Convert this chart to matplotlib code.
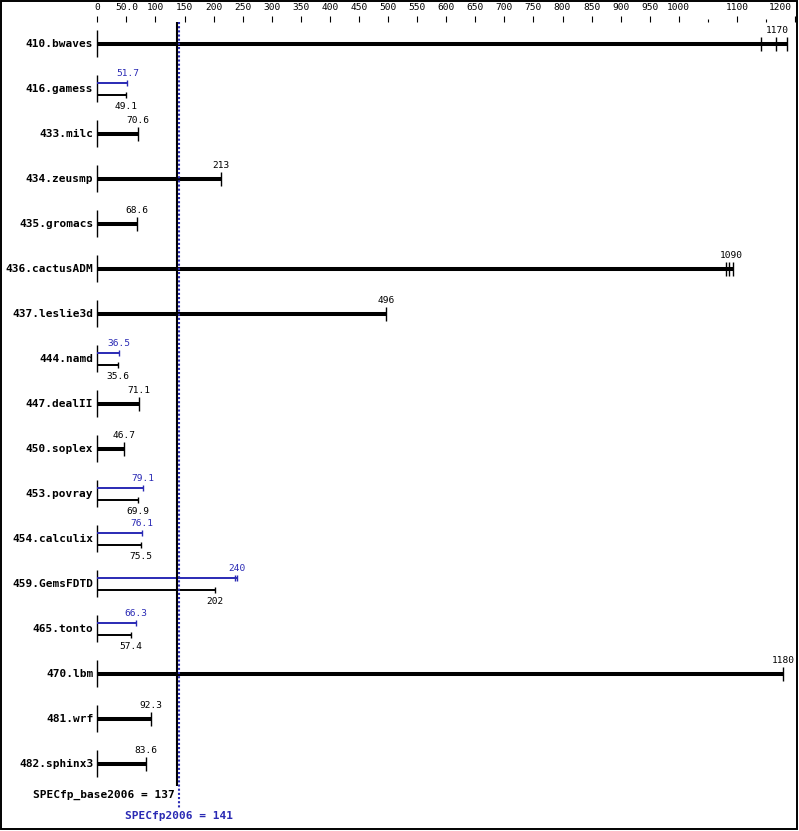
import matplotlib
matplotlib.use('Agg')
import matplotlib.pyplot as plt
from matplotlib.transforms import offset_copy

# benchmark results (base always, peak only where reported)
benchmarks = ['410.bwaves', '416.gamess', '433.milc', '434.zeusmp', '435.gromacs',
              '436.cactusADM', '437.leslie3d', '444.namd', '447.dealII', '450.soplex',
              '453.povray', '454.calculix', '459.GemsFDTD', '465.tonto', '470.lbm',
              '481.wrf', '482.sphinx3']
base = [1170, 49.1, 70.6, 213, 68.6, 1090, 496, 35.6, 71.1, 46.7,
        69.9, 75.5, 202, 57.4, 1180, 92.3, 83.6]
peak = [None, 51.7, None, None, None, None, None, 36.5, None, None,
        79.1, 76.1, 240, 66.3, None, None, None]
# individual runs where they are visible as separate ticks
base_runs = {'410.bwaves': [1142, 1167, 1186], '436.cactusADM': [1082, 1087, 1093]}
peak_runs = {'459.GemsFDTD': [237, 240]}

ticks = [0, 50, 100, 150, 200, 250, 300, 350, 400, 450, 500, 550, 600, 650,
         700, 750, 800, 850, 900, 950, 1000, 1100, 1200]
tick_labels = ['0', '50.0', '100', '150', '200', '250', '300', '350', '400', '450',
               '500', '550', '600', '650', '700', '750', '800', '850', '900', '950',
               '1000', '1100', '1200']
minor_ticks = [1050, 1150]

base_score = 137
peak_score = 141

BLUE = '#2a2ab4'
NUMFONT = dict(family='DejaVu Sans Mono', fontsize=6.8)
NAMEFONT = dict(family='DejaVu Sans Mono', fontsize=8, fontweight='bold')

W, H = 799, 831
fig = plt.figure(figsize=(W / 100, H / 100), dpi=100)
ax = fig.add_axes([0, 0, 1, 1])
px = 0.5815  # pixels per unit
x0 = 97.3
ax.set_xlim(-x0 / px, (W - x0) / px)
ax.set_ylim(H, 0)
ax.axis('off')

# top scale
ax.vlines(ticks, 16, 22, color='black', lw=0.8)
ax.vlines(minor_ticks, 19, 22, color='black', lw=0.8)
last_tr = offset_copy(ax.transData, fig=fig, x=-3, y=0, units='dots')
for t, lab in zip(ticks, tick_labels):
    if t == ticks[-1]:
        # last label pulled inside the frame
        ax.text(t, 8, lab, ha='right', va='center', transform=last_tr, **NUMFONT)
    else:
        ax.text(t, 8, lab, ha='center', va='center', **NUMFONT)

name_tr = offset_copy(ax.transData, fig=fig, x=-4, y=0, units='dots')

def fmt(v):
    return ('%g' % v)

for i, name in enumerate(benchmarks):
    y = 44 + 45 * i
    b = base[i]
    p = peak[i]
    ax.text(0, y, name, ha='right', va='center', transform=name_tr, **NAMEFONT)
    ax.vlines(0, y - 14, y + 13, color='black', lw=1.0)
    if p is None:
        runs = base_runs.get(name, [b])
        ax.hlines(y, 0, max(runs), color='black', lw=2.9)
        ax.vlines(runs, y - 7, y + 7, color='black', lw=1.0)
        ax.text(b, y - 9, fmt(b), ha='center', va='bottom', **NUMFONT)
    else:
        pr = peak_runs.get(name, [p])
        ax.hlines(y - 6, 0, max(pr), color=BLUE, lw=1.4)
        ax.vlines(pr, y - 9, y - 3, color=BLUE, lw=1.0)
        ax.text(p, y - 11, fmt(p), ha='center', va='bottom', color=BLUE, **NUMFONT)
        ax.hlines(y + 6, 0, b, color='black', lw=1.4)
        ax.vlines(b, y + 3, y + 9, color='black', lw=1.0)
        ax.text(b, y + 13, fmt(b), ha='center', va='top', **NUMFONT)

# overall score lines
ax.vlines(base_score, 22, 786, color='black', lw=1.5)
ax.vlines(peak_score, 22, 808, color=BLUE, lw=1.5, linestyles=(0, (1, 1)))
btr = offset_copy(ax.transData, fig=fig, x=-2, y=0, units='dots')
ax.text(base_score, 795, 'SPECfp_base2006 = %d' % base_score, ha='right', va='center',
        transform=btr, **NAMEFONT)
ax.text(peak_score, 816, 'SPECfp2006 = %d' % peak_score, ha='center', va='center',
        color=BLUE, **NAMEFONT)

# outer frame
fig.add_artist(plt.Rectangle((0.6 / W, 2 / H), 1 - 2.6 / W, 1 - 2.6 / H,
                             transform=fig.transFigure, fill=False, lw=1.4,
                             edgecolor='black'))

fig.savefig('out.png', dpi=100)
